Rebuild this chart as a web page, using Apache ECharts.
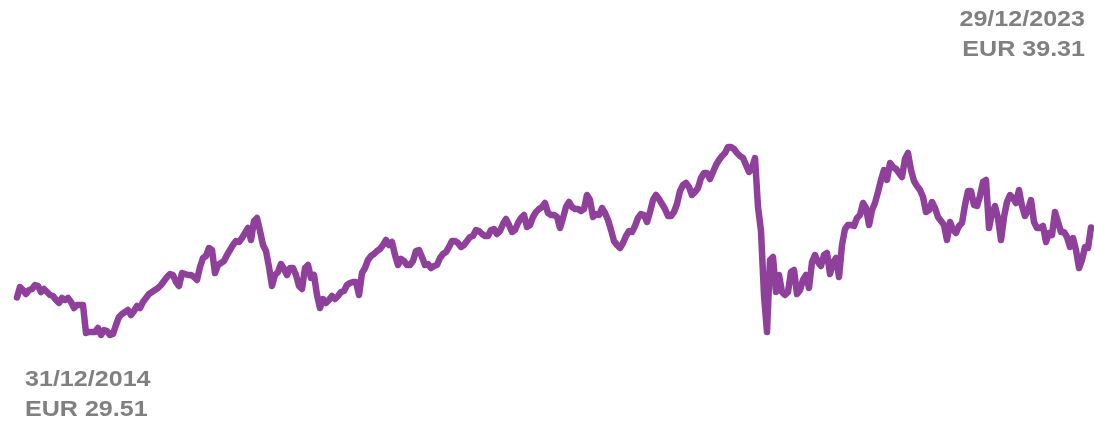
<!DOCTYPE html>
<html>
<head>
<meta charset="utf-8">
<script src="https://cdn.jsdelivr.net/npm/echarts@6/dist/echarts.min.js"></script>
<style>
html,body{margin:0;padding:0;background:#fff;}
#chart{width:1094px;height:424px;}
</style>
</head>
<body>
<div id="chart"></div>
<script>
// Price series (EUR), roughly every ~9 trading days
const startDate = '2014-12-31';
const endDate = '2023-12-29';
const prices2015 = [29.51,30.98,30.56,30.00,30.56,30.70,31.26,31.12,30.28,30.70,30.28,29.86,29.72,29.16,28.74,29.44,29.16,29.44,28.88,28.04,28.46,28.46,28.46,24.54,24.68,24.68,24.68,25.24,24.26,24.96,24.82,24.26,24.40,25.66,26.78,27.20,27.48,27.76,27.06];
const prices2016 = [27.62,28.32,28.04,28.88,29.44,30.00,30.28,30.56,30.84,31.26,31.82,32.38,32.80,32.66,31.68,31.12,32.94,32.80,32.66,32.66,32.38,31.96,33.78,35.04,35.32,36.44,36.16,32.94,34.06,34.34,34.62,35.46,36.16,36.86,37.42,37.28,37.84,38.54,39.24,37.56];
const prices2017 = [40.22,40.64,38.82,36.86,36.02,33.78,31.12,32.66,33.08,34.20,33.50,32.66,33.64,33.64,32.66,31.12,30.70,33.64,34.06,32.24,32.66,29.86,28.04,29.30,28.74,29.16,29.72,29.30,29.72,30.28,30.42,31.26,31.54,31.68,31.68,29.86,32.94,33.64,34.76,35.32];
const prices2018 = [35.60,36.02,36.30,36.86,37.56,36.86,37.28,35.46,34.06,34.90,34.62,34.06,34.06,34.62,36.02,36.16,35.18,34.06,34.20,33.64,33.92,34.06,35.04,35.60,35.88,36.58,37.42,37.42,37.14,36.58,36.86,37.42,37.98,38.12,38.96,38.82,38.40,38.12,38.12,38.96];
const prices2019 = [39.10,38.40,38.82,39.80,40.50,39.66,38.68,38.96,39.94,40.64,41.06,39.38,39.66,40.78,41.48,41.90,42.18,42.74,41.34,41.06,41.06,40.78,39.24,40.64,42.18,42.88,42.18,41.90,41.90,41.62,41.90,43.86,43.16,40.78,41.20,41.06,42.04,41.34,40.36,38.96];
const prices2020 = [37.42,36.86,36.44,37.14,38.12,38.82,38.68,39.52,40.64,41.20,41.06,40.08,41.48,43.16,43.86,43.30,42.60,41.90,40.92,40.92,41.48,42.60,44.42,45.26,45.54,44.98,43.86,44.28,44.84,46.24,46.94,46.94,46.10,47.08,48.06,48.76,49.32,49.74,50.58,50.58];
const prices2021 = [50.30,49.74,49.32,49.04,48.06,47.08,47.64,49.04,42.18,38.82,29.86,24.68,34.76,35.18,30.28,32.66,30.28,29.86,30.28,33.08,33.36,30.00,30.56,31.96,32.66,30.84,34.48,35.46,34.48,33.92,35.46,35.74,32.80,34.34,35.04,32.38,36.86,39.10,39.66,39.66];
const prices2022 = [39.52,40.64,41.06,42.74,42.04,39.66,41.76,42.74,44.28,45.96,47.36,45.96,48.34,47.78,47.50,46.94,46.38,48.90,49.74,47.36,45.82,45.12,44.56,43.58,41.48,41.76,42.88,42.04,40.78,40.22,39.66,37.56,40.08,38.96,38.54,39.52,39.94,42.46,44.42,44.42];
const prices2023 = [42.46,42.32,43.72,45.68,45.96,39.24,41.34,42.32,40.64,37.56,40.78,42.88,43.86,43.44,42.74,44.56,42.32,40.92,41.76,43.16,40.08,39.24,39.24,39.52,37.28,38.54,38.26,41.48,40.08,38.68,38.68,37.98,36.58,37.84,36.16,33.64,34.76,36.58,36.44,39.31];

const startLabel = ['31/12/2014', 'EUR 29.51'];
const endLabel = ['29/12/2023', 'EUR 39.31'];

const prices = [].concat(prices2015, prices2016, prices2017, prices2018, prices2019, prices2020, prices2021, prices2022, prices2023);

// evenly spaced date categories between start and end
const t0 = new Date(startDate + 'T00:00:00Z').getTime();
const t1 = new Date(endDate + 'T00:00:00Z').getTime();
const dates = prices.map((_, i) => {
  const t = t0 + (t1 - t0) * i / (prices.length - 1);
  return new Date(t).toISOString().slice(0, 10);
});

const chart = echarts.init(document.getElementById('chart'), null, {renderer: 'canvas'});
const textFont = 'bold 22px "Liberation Sans", Arial, Helvetica, sans-serif';
const textScaleX = 1.14;
chart.setOption({
  animation: false,
  backgroundColor: '#ffffff',
  grid: {left: 17, right: 3, top: 140, bottom: 84, containLabel: false},
  xAxis: {
    type: 'category', data: dates, boundaryGap: false, show: false
  },
  yAxis: {
    type: 'value', min: 23.56, max: 51.56, show: false, splitLine: {show: false}
  },
  series: [{
    type: 'line',
    data: prices,
    showSymbol: false,
    symbol: 'none',
    smooth: false,
    lineStyle: {color: '#8E409B', width: 6.5, cap: 'round', join: 'round'},
    itemStyle: {color: '#8E409B'}
  }],
  graphic: [
    {type: 'text', x: 25, y: 365, scaleX: textScaleX, silent: true,
     style: {x: 0, y: 0, text: startLabel.join('\n'), font: textFont, fill: '#808080', lineHeight: 30, align: 'left', verticalAlign: 'top'}},
    {type: 'text', x: 1085, y: 5, scaleX: textScaleX, silent: true,
     style: {x: 0, y: 0, text: endLabel.join('\n'), font: textFont, fill: '#808080', lineHeight: 30, align: 'right', verticalAlign: 'top'}}
  ]
});
</script>
</body>
</html>
